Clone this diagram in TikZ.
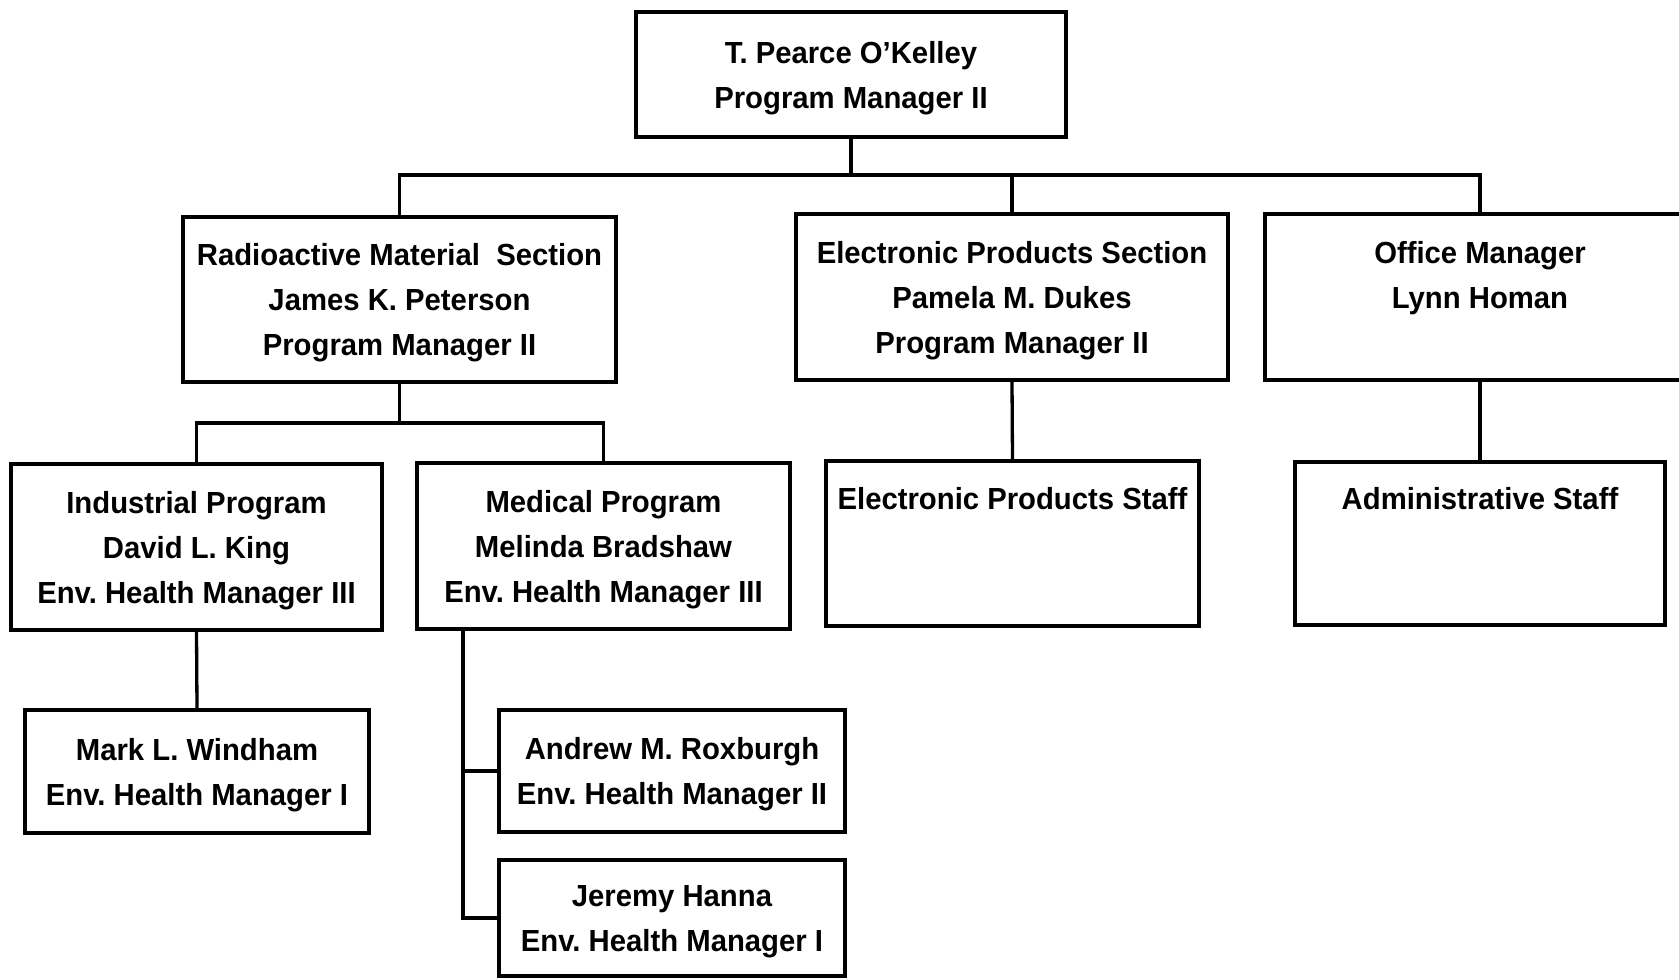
\documentclass[tikz,border=0pt]{standalone}
\usepackage{fontspec}
\setmainfont[FakeStretch=0.96]{Liberation Sans}
\newcommand\boxfont{\fontsize{30.5}{45}\selectfont\bfseries\frenchspacing}
\newcommand\ms{\rule[-8pt]{0pt}{38pt}}
\tikzset{
  box/.style={draw, line width=3.3pt, inner sep=0pt, align=center, font=\boxfont},
  conn/.style={line width=3.3pt, line join=miter},
}
\begin{document}
\begin{tikzpicture}[x=1pt,y=-1pt]
\useasboundingbox[fill=white] (0,0) rectangle (1679,980);

\node[box, minimum width=430pt, minimum height=125pt] (chief) at (851,74.5)
  {\ms T. Pearce O'Kelley\\\ms Program Manager II};

\node[box, minimum width=433pt, minimum height=165pt] (rad) at (399.5,299.5)
  {\ms Radioactive Material\ \ Section\\\ms James K. Peterson\\\ms Program Manager II};
\node[box, minimum width=432pt, minimum height=166pt] (ep) at (1012,297)
  {\ms Electronic Products Section\\\ms Pamela M. Dukes\\\ms Program Manager II};
\node[box, minimum width=430pt, minimum height=166pt] (off) at (1480,297)
  {\ms Office Manager\\\ms Lynn Homan\\\ms};

\node[box, minimum width=371pt, minimum height=166pt] (ind) at (196.5,547)
  {\ms Industrial Program\\\ms David L. King\\\ms Env. Health Manager III};
\node[box, minimum width=373pt, minimum height=166pt] (med) at (603.5,546)
  {\ms Medical Program\\\ms Melinda Bradshaw\\\ms Env. Health Manager III};
\node[box, minimum width=373pt, minimum height=165pt] (eps) at (1012.5,543.5)
  {\ms Electronic Products Staff\\\ms\\\ms};
\node[box, minimum width=370pt, minimum height=163pt] (adm) at (1480,543.5)
  {\ms Administrative Staff\\\ms\\\ms};

\node[box, minimum width=344pt, minimum height=123pt] (mark) at (197,771.5)
  {\ms Mark L. Windham\\\ms Env. Health Manager I};
\node[box, minimum width=346pt, minimum height=122pt] (andr) at (672,771)
  {\ms Andrew M. Roxburgh\\\ms Env. Health Manager II};
\node[box, minimum width=346pt, minimum height=116pt] (jer) at (672,918)
  {\ms Jeremy Hanna\\\ms Env. Health Manager I};

\coordinate (bus) at (851,175);
\coordinate (sub) at (399.5,423);
\coordinate (medleg) at (463,629);

\draw[conn] (chief.south) -- (bus);
\draw[conn] (rad.north) -- (rad.north |- bus) -- (off.north |- bus) -- (off.north);
\draw[conn] (ep.north) -- (ep.north |- bus);

\draw[conn] (rad.south) -- (sub);
\draw[conn] (ind.north) -- (ind.north |- sub) -- (med.north |- sub) -- (med.north);

\draw[conn] (ind.south) -- (mark.north);
\draw[conn] (ep.south) -- (eps.north);
\draw[conn] (off.south) -- (adm.north);

\draw[conn] (medleg) |- (jer.west);
\draw[conn] (medleg |- andr.west) -- (andr.west);
\end{tikzpicture}
\end{document}
